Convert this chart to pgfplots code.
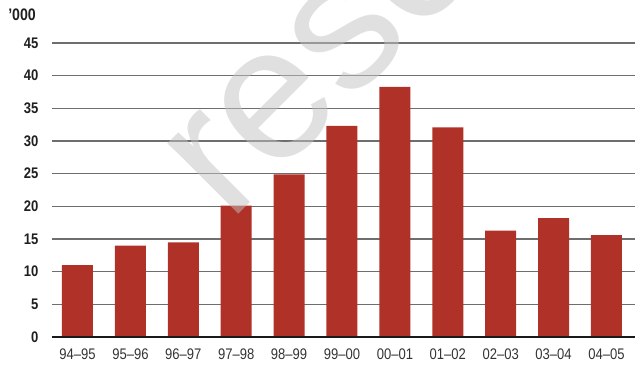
\documentclass[border=0pt]{standalone}
\usepackage{pgfplots}
\pgfplotsset{compat=1.18}
\usepackage{fontspec}
\setmainfont{Liberation Sans}[FakeStretch=0.85]
\newfontfamily\wmfont{Liberation Sans}
\definecolor{barred}{HTML}{B03127}
\definecolor{gridc}{HTML}{6E6E6E}
\definecolor{wm}{HTML}{C2C2C2}
\begin{document}
\begin{tikzpicture}
\begin{axis}[
  scale only axis, width=437.25pt, height=220.5pt,
  xmin=-0.482, xmax=10.539, ymin=0, ymax=45,
  axis line style={draw=none},
  ymajorgrids, major grid style={gridc, line width=0.9pt},
  major tick length=0pt,
  ytick={0,5,...,45},
  xtick={0,...,10},
  xticklabels={94–95,95–96,96–97,97–98,98–99,99–00,00–01,01–02,02–03,03–04,04–05},
  yticklabel style={font=\bfseries\fontsize{11.5}{12}\selectfont, text=black!88, /pgf/number format/assume math mode=true, xshift=-6.7pt},
  xticklabel style={font=\fontsize{11.5}{12}\selectfont, text=black!80, yshift=-5.6pt},
  clip=false,
]
\addplot[ybar, bar width=23.25pt, fill=barred, draw=none] coordinates {
 (0,11.0) (1,14.0) (2,14.5) (3,20.1) (4,24.9) (5,32.3) (6,38.3) (7,32.1) (8,16.3) (9,18.2) (10,15.6)
};
\draw[black!90, line width=2pt] (rel axis cs:0,0) -- (rel axis cs:1,0);
\coordinate (ll) at (rel axis cs:0,0);
\coordinate (ur) at (rel axis cs:1,1);
\coordinate (tl) at (rel axis cs:0,1);
\end{axis}
\node[anchor=west, inner sep=0pt, font=\bfseries\fontsize{12.5}{13}\selectfont, text=black!88] at ([shift={(-33pt,21pt)}]tl) {’000};
\node[overlay, anchor=base west, inner sep=0pt, rotate=45, text=wm, opacity=0.5, font=\wmfont\fontsize{142}{146}\selectfont] at ([shift={(132.75pt,84.75pt)}]ll) {resc};
\pgfresetboundingbox
\path ([shift={(-39pt,-22.5pt)}]ll) rectangle ([shift={(0pt,32.25pt)}]ur);
\end{tikzpicture}
\end{document}
